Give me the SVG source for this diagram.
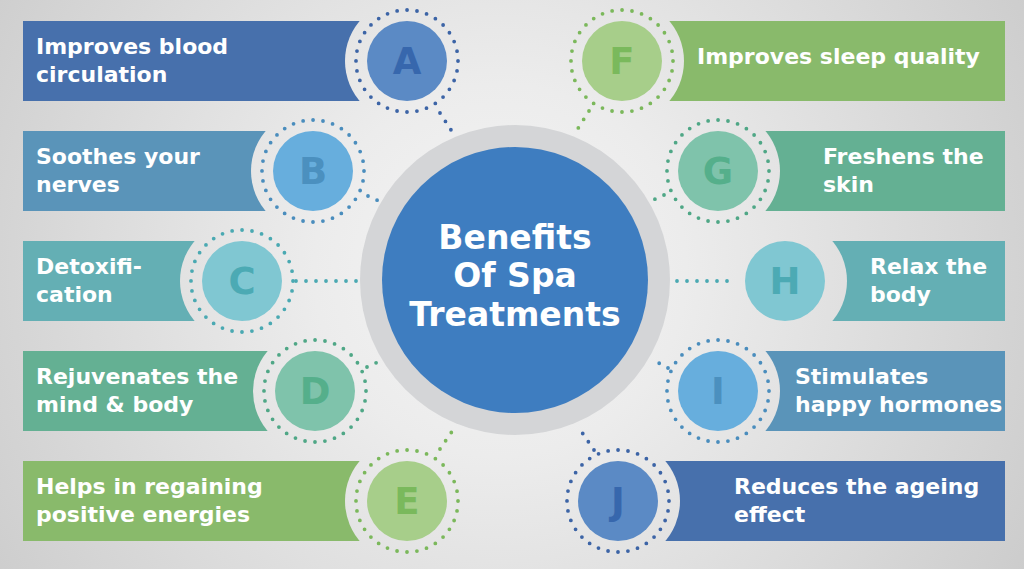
<svg xmlns="http://www.w3.org/2000/svg" width="1024" height="569" viewBox="0 0 1024 569">
<defs>
<radialGradient id="bg" gradientUnits="userSpaceOnUse" cx="500" cy="270" r="620">
<stop offset="0" stop-color="#F5F5F5"/>
<stop offset="0.3" stop-color="#ECECEC"/>
<stop offset="1" stop-color="#CBCBCB"/>
</radialGradient>
</defs>
<style>
.txt{font-family:"DejaVu Sans","Liberation Sans",sans-serif;font-weight:bold;font-size:22px;fill:#FFFFFF}
.ltr{font-family:"DejaVu Sans","Liberation Sans",sans-serif;font-weight:bold;font-size:37px;text-anchor:middle}
.ttl{font-family:"DejaVu Sans","Liberation Sans",sans-serif;font-weight:bold;font-size:33px;fill:#FFFFFF;text-anchor:middle}
.halo{fill:url(#bg)}
.ring{fill:none;stroke-width:3.8;stroke-linecap:round;stroke-dasharray:0 10}
.con{fill:none;stroke-width:3.8;stroke-linecap:round;stroke-dasharray:0 10}
.blue1{fill:#4770AC}.blue1c{fill:#5B8AC5}.blue1l{fill:#3767AD}.blue1s{stroke:#3C64A6}
.blue2{fill:#5A94B9}.blue2c{fill:#67AEDD}.blue2l{fill:#4B90BF}.blue2s{stroke:#4A8DBD}
.teal{fill:#64AFB4}.tealc{fill:#80C7D2}.teall{fill:#4CAAB4}.teals{stroke:#4AA9B2}
.sea{fill:#64B093}.seac{fill:#7FC3AB}.seal{fill:#55AF8B}.seas{stroke:#4FA786}
.grn{fill:#89BA6B}.grnc{fill:#A7CE8A}.grnl{fill:#7AB95C}.grns{stroke:#7BB85B}
</style>
<rect width="1024" height="569" fill="url(#bg)"/>

<g id="banners">
<rect class="blue1" x="23" y="21" width="384" height="80"/>
<rect class="blue2" x="23" y="131" width="290" height="80"/>
<rect class="teal" x="23" y="241" width="219" height="80"/>
<rect class="sea" x="23" y="351" width="292" height="80"/>
<rect class="grn" x="23" y="461" width="384" height="80"/>
<rect class="grn" x="622" y="21" width="383" height="80"/>
<rect class="sea" x="718" y="131" width="287" height="80"/>
<rect class="teal" x="785" y="241" width="220" height="80"/>
<rect class="blue2" x="718" y="351" width="287" height="80"/>
<rect class="blue1" x="618" y="461" width="387" height="80"/>
</g>

<g id="halos">
<circle class="halo" cx="407" cy="61" r="62"/>
<circle class="halo" cx="313" cy="171" r="62"/>
<circle class="halo" cx="242" cy="281" r="62"/>
<circle class="halo" cx="315" cy="391" r="62"/>
<circle class="halo" cx="407" cy="501" r="62"/>
<circle class="halo" cx="622" cy="61" r="62"/>
<circle class="halo" cx="718" cy="171" r="62"/>
<circle class="halo" cx="785" cy="281" r="62"/>
<circle class="halo" cx="718" cy="391" r="62"/>
<circle class="halo" cx="618" cy="501" r="62"/>
</g>

<g id="connectors">
<line class="con blue1s" x1="440" y1="113" x2="453" y2="133"/>
<line class="con blue2s" x1="368" y1="196" x2="381" y2="202"/>
<line class="con teals" x1="296" y1="281" x2="358" y2="281"/>
<line class="con seas" x1="367" y1="367" x2="380" y2="361"/>
<line class="con grns" x1="440" y1="449" x2="453" y2="430"/>
<line class="con grns" x1="589" y1="111" x2="577" y2="130"/>
<line class="con seas" x1="664" y1="195" x2="651" y2="201"/>
<line class="con teals" x1="727" y1="281" x2="670" y2="281"/>
<line class="con blue2s" x1="668" y1="368" x2="655" y2="361"/>
<line class="con blue1s" x1="594" y1="450" x2="579" y2="428"/>
</g>

<g id="center">
<circle cx="515" cy="280" r="155" fill="#D4D5D7"/>
<circle cx="515" cy="280" r="133" fill="#3E7DC0"/>
<text class="ttl" x="515" y="249">Benefits</text>
<text class="ttl" x="515" y="287">Of Spa</text>
<text class="ttl" x="515" y="326">Treatments</text>
</g>

<g id="node-a">
<circle class="ring blue1s" cx="407" cy="61" r="51"/>
<circle class="blue1c" cx="407" cy="61" r="40"/>
<text class="ltr blue1l" x="407" y="74">A</text>
<text class="txt" x="36" y="54">Improves blood</text>
<text class="txt" x="36" y="82">circulation</text>
</g>
<g id="node-b">
<circle class="ring blue2s" cx="313" cy="171" r="51"/>
<circle class="blue2c" cx="313" cy="171" r="40"/>
<text class="ltr blue2l" x="313" y="184">B</text>
<text class="txt" x="36" y="164">Soothes your</text>
<text class="txt" x="36" y="192">nerves</text>
</g>
<g id="node-c">
<circle class="ring teals" cx="242" cy="281" r="51"/>
<circle class="tealc" cx="242" cy="281" r="40"/>
<text class="ltr teall" x="242" y="294">C</text>
<text class="txt" x="36" y="274">Detoxifi-</text>
<text class="txt" x="36" y="302">cation</text>
</g>
<g id="node-d">
<circle class="ring seas" cx="315" cy="391" r="51"/>
<circle class="seac" cx="315" cy="391" r="40"/>
<text class="ltr seal" x="315" y="404">D</text>
<text class="txt" x="36" y="384">Rejuvenates the</text>
<text class="txt" x="36" y="412">mind &amp; body</text>
</g>
<g id="node-e">
<circle class="ring grns" cx="407" cy="501" r="51"/>
<circle class="grnc" cx="407" cy="501" r="40"/>
<text class="ltr grnl" x="407" y="514">E</text>
<text class="txt" x="36" y="494">Helps in regaining</text>
<text class="txt" x="36" y="522">positive energies</text>
</g>
<g id="node-f">
<circle class="ring grns" cx="622" cy="61" r="51"/>
<circle class="grnc" cx="622" cy="61" r="40"/>
<text class="ltr grnl" x="622" y="74">F</text>
<text class="txt" x="697" y="64">Improves sleep quality</text>
</g>
<g id="node-g">
<circle class="ring seas" cx="718" cy="171" r="51"/>
<circle class="seac" cx="718" cy="171" r="40"/>
<text class="ltr seal" x="718" y="184">G</text>
<text class="txt" x="823" y="164">Freshens the</text>
<text class="txt" x="823" y="192">skin</text>
</g>
<g id="node-h">
<circle class="tealc" cx="785" cy="281" r="40"/>
<text class="ltr teall" x="785" y="294">H</text>
<text class="txt" x="870" y="274">Relax the</text>
<text class="txt" x="870" y="302">body</text>
</g>
<g id="node-i">
<circle class="ring blue2s" cx="718" cy="391" r="51"/>
<circle class="blue2c" cx="718" cy="391" r="40"/>
<text class="ltr blue2l" x="718" y="404">I</text>
<text class="txt" x="795" y="384">Stimulates</text>
<text class="txt" x="795" y="412">happy hormones</text>
</g>
<g id="node-j">
<circle class="ring blue1s" cx="618" cy="501" r="51"/>
<circle class="blue1c" cx="618" cy="501" r="40"/>
<text class="ltr blue1l" x="618" y="514">J</text>
<text class="txt" x="734" y="494">Reduces the ageing</text>
<text class="txt" x="734" y="522">effect</text>
</g>
</svg>
